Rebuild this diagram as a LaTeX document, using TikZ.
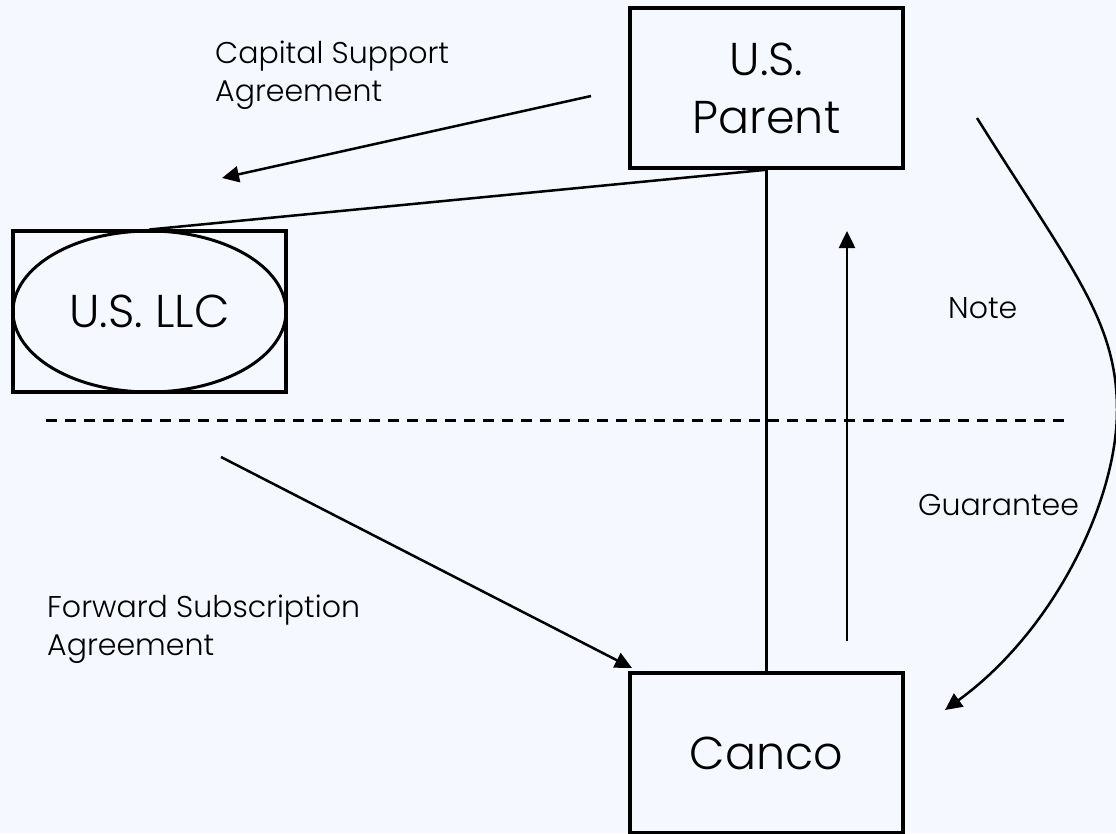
\documentclass[tikz,border=0pt]{standalone}
\usepackage{fontspec}
\setmainfont{Poppins}[UprightFont=* Light]
\usetikzlibrary{arrows.meta,shapes.geometric}
\definecolor{paper}{HTML}{F5F8FE}
\tikzset{
  entity/.style={draw=black, line width=3.5pt, rectangle, minimum width=273pt,
    minimum height=160pt, inner sep=0pt, align=center,
    font=\fontsize{46}{58}\selectfont},
  oval/.style={draw=black, line width=3pt, ellipse, inner sep=0pt,
    minimum width=273pt, minimum height=161pt,
    font=\fontsize{46}{58}\selectfont},
  link/.style={draw=black, line width=2.5pt},
  flow/.style={draw=black, line width=2.5pt, -{Triangle[length=17pt,width=16pt]}},
  divider/.style={draw=black, line width=3pt, dash pattern=on 11pt off 8pt},
  lbl/.style={inner sep=0pt, align=left, font=\fontsize{30}{38}\selectfont}
}
\begin{document}
\begin{tikzpicture}[x=1pt, y=-1pt]
  % page
  \fill[paper] (0,0) rectangle (1116,833);
  \useasboundingbox (0,0) rectangle (1116,833);

  % entities
  \node[entity] (parent) at (766.5,88) {U.S.\\Parent};
  \node[entity] (canco) at (766.5,753) {Canco};
  \node[entity, minimum height=161pt] (llcbox) at (149.5,311.5) {};
  \node[oval] (llc) at (149.5,311.5) {U.S. LLC};

  % ownership lines
  \draw[link] (parent.south) -- (llc.north);
  \draw[link] (parent.south) -- (canco.north);

  % border between jurisdictions
  \coordinate (divL) at (46,420);
  \coordinate (divR) at (1068,420);
  \draw[divider] (divL) -- (divR);

  % capital support agreement
  \coordinate (csaS) at (591,96);
  \coordinate (csaE) at (222,178);
  \draw[flow] (csaS) -- (csaE);
  \node[lbl, anchor=north west] (csa) at (215,41) {Capital Support\\Agreement};

  % forward subscription agreement
  \coordinate (fsaS) at (221,457);
  \coordinate (fsaE) at (632,668);
  \draw[flow] (fsaS) -- (fsaE);
  \node[lbl, anchor=north west] (fsa) at (47,595) {Forward Subscription\\Agreement};

  % note
  \coordinate (noteS) at (847,641);
  \coordinate (noteE) at (847,231);
  \draw[flow] (noteS) -- (noteE);
  \node[lbl, anchor=base west] (note) at (948,318) {Note};

  % guarantee
  \coordinate (guaS) at (977,118);
  \coordinate (guaM) at (1117,410);
  \coordinate (guaE) at (945,710);
  \draw[flow] (guaS) .. controls (1071,268) and (1117,320) .. (guaM)
                     .. controls (1117,500) and (1055,630) .. (guaE);
  \node[lbl, anchor=base west] (gua) at (918,515) {Guarantee};
\end{tikzpicture}
\end{document}
